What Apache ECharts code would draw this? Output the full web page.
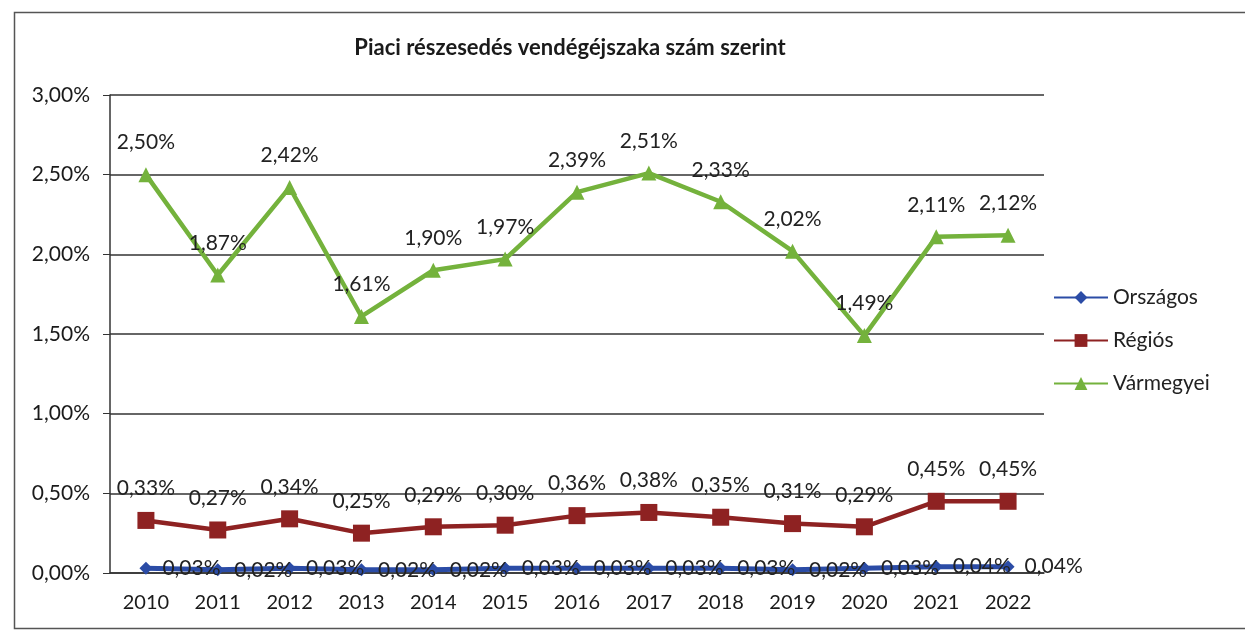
<!DOCTYPE html>
<html><head><meta charset="utf-8">
<script src="https://cdn.jsdelivr.net/npm/echarts@6/dist/echarts.min.js"></script>
<style>html,body{margin:0;padding:0;background:#fff}#c{width:1245px;height:630px}</style>
</head><body><div id="c"></div>
<script>
var categories = ['2010','2011','2012','2013','2014','2015','2016','2017','2018','2019','2020','2021','2022'];
var orszagos = [0.03,0.02,0.03,0.02,0.02,0.03,0.03,0.03,0.03,0.02,0.03,0.04,0.04];
var regios = [0.33,0.27,0.34,0.25,0.29,0.30,0.36,0.38,0.35,0.31,0.29,0.45,0.45];
var varmegyei = [2.50,1.87,2.42,1.61,1.90,1.97,2.39,2.51,2.33,2.02,1.49,2.11,2.12];
var yTicks = [0,0.5,1,1.5,2,2.5,3];

var FONT = 'Lato';
function pct(v){ return v.toFixed(2).replace('.', ',') + '%'; }

var chart = echarts.init(document.getElementById('c'), null, {renderer:'canvas'});
chart.setOption({
  backgroundColor:'#fff',
  animation:false,
  textStyle:{fontFamily:FONT},
  title:{
    text:'Piaci részesedés vendégéjszaka szám szerint',
    left:565, top:32, textAlign:'center',
    textStyle:{fontFamily:FONT, fontSize:22, fontWeight:'bold', color:'#1a1a1a'}
  },
  graphic:[{
    type:'rect', left:12, top:10, silent:true,
    shape:{width:1250, height:616},
    style:{fill:'none', stroke:'#555', lineWidth:1.5}
  }],
  legend:{
    orient:'vertical', left:1053, top:287, itemGap:22, padding:0,
    itemWidth:54, itemHeight:16,
    textStyle:{fontFamily:FONT, fontSize:21, color:'#222'},
    data:['Országos','Régiós','Vármegyei']
  },
  grid:{left:110, right:201, top:95, bottom:57},
  xAxis:{
    type:'category', data:categories, boundaryGap:true,
    axisLine:{show:true, lineStyle:{color:'#333', width:1.5}},
    axisTick:{show:false},
    axisLabel:{fontFamily:FONT, fontSize:20, color:'#1a1a1a', margin:20}
  },
  yAxis:{
    type:'value', min:0, max:3, interval:0.5,
    axisLine:{show:true, lineStyle:{color:'#333', width:1.5}},
    axisTick:{show:true, length:7, lineStyle:{color:'#333'}},
    splitLine:{show:true, lineStyle:{color:'#333', width:1.5}},
    axisLabel:{fontFamily:FONT, fontSize:21, color:'#1a1a1a', margin:20,
      formatter:function(v){return pct(v);}}
  },
  series:[
    {
      name:'Országos', type:'line', data:orszagos,
      symbol:'diamond', symbolSize:13,
      lineStyle:{color:'#2b4ca6', width:5},
      itemStyle:{color:'#2b4ca6'},
      label:{show:true, position:'right', distance:10, fontFamily:FONT, fontSize:21, color:'#222',
        formatter:function(p){return pct(p.value);}}
    },
    {
      name:'Régiós', type:'line', data:regios,
      symbol:'rect', symbolSize:17,
      lineStyle:{color:'#8e2222', width:4.5},
      itemStyle:{color:'#8e2222'},
      label:{show:true, position:'top', distance:13, fontFamily:FONT, fontSize:21, color:'#222',
        formatter:function(p){return pct(p.value);}}
    },
    {
      name:'Vármegyei', type:'line', data:varmegyei,
      symbol:'triangle', symbolSize:15,
      lineStyle:{color:'#74b23c', width:4.5},
      itemStyle:{color:'#74b23c'},
      label:{show:true, position:'top', distance:14, fontFamily:FONT, fontSize:21, color:'#222',
        formatter:function(p){return pct(p.value);}}
    }
  ]
});
</script></body></html>
